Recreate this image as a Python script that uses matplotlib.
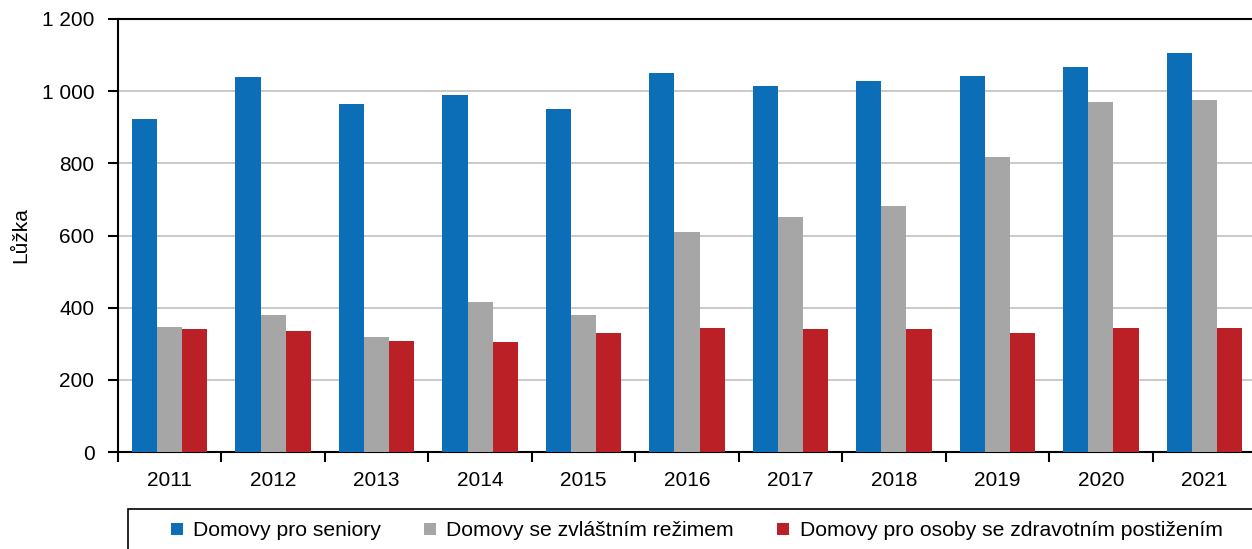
import numpy as np
import matplotlib.pyplot as plt
from matplotlib.patches import Patch, Rectangle
from matplotlib.ticker import FuncFormatter, MultipleLocator

# data
years = ["2011", "2012", "2013", "2014", "2015", "2016", "2017", "2018", "2019", "2020", "2021"]
seniory = [922, 1039, 964, 989, 950, 1050, 1014, 1028, 1042, 1067, 1106]
zvlastni = [346, 380, 319, 416, 380, 610, 651, 682, 817, 970, 975]
postizeni = [341, 335, 308, 305, 330, 344, 341, 341, 330, 344, 344]
labels = ["Domovy pro seniory", "Domovy se zvláštním režimem",
          "Domovy pro osoby se zdravotním postižením"]
colors = ["#0c6eb6", "#a6a6a6", "#bb2026"]

plt.rcParams["font.family"] = ["Liberation Sans", "DejaVu Sans"]
plt.rcParams["font.size"] = 15

W, H = 1252, 549
fig = plt.figure(figsize=(W / 100, H / 100), dpi=100)
ax = fig.add_axes([118 / W, 1 - 452 / H, 1138 / W, 433 / H])

x = np.arange(len(years))
w = 0.243
for i, (vals, c) in enumerate(zip([seniory, zvlastni, postizeni], colors)):
    ax.bar(x + (i - 1) * w, vals, width=w, color=c, zorder=3)

ax.set_xlim(-0.5, len(years) - 0.5)
ax.set_ylim(0, 1200)
ax.yaxis.set_major_locator(MultipleLocator(200))
ax.yaxis.set_major_formatter(FuncFormatter(lambda v, p: f"{int(v):,}".replace(",", " ")))
ax.set_xticks(x)
ax.set_xticklabels(years)
ax.set_xticks(np.arange(len(years) + 1) - 0.5, minor=True)
ax.tick_params(axis="x", which="major", length=0, pad=14)
ax.tick_params(axis="x", which="minor", length=7, width=1.5, direction="out")
ax.tick_params(axis="y", length=7, width=1.5, pad=10)
ax.grid(axis="y", color="#c0c0c0", linewidth=1.2, zorder=0)
for s in ["left", "bottom", "top"]:
    ax.spines[s].set_linewidth(1.5)
ax.spines["right"].set_visible(False)
ax.set_ylabel("Lůžka")
ax.yaxis.set_label_coords((30 - 118) / 1138, 0.5)

# legend box runs past the right edge like in the reference
fig.add_artist(Rectangle((128 / W, 1 - 560 / H), 1150 / W, 51 / H,
                         transform=fig.transFigure, facecolor="white",
                         edgecolor="black", linewidth=1.2, clip_on=False))
handles = [Patch(facecolor=c, edgecolor="none") for c in colors]
fig.legend(handles, labels, ncol=3, loc="center left",
           bbox_to_anchor=(171 / W, 1 - 531 / H), fontsize=15.2,
           frameon=False, handlelength=0.55, handleheight=0.55, handletextpad=0.5,
           columnspacing=2.05, borderpad=0, borderaxespad=0)

fig.savefig("out.png", dpi=100)
